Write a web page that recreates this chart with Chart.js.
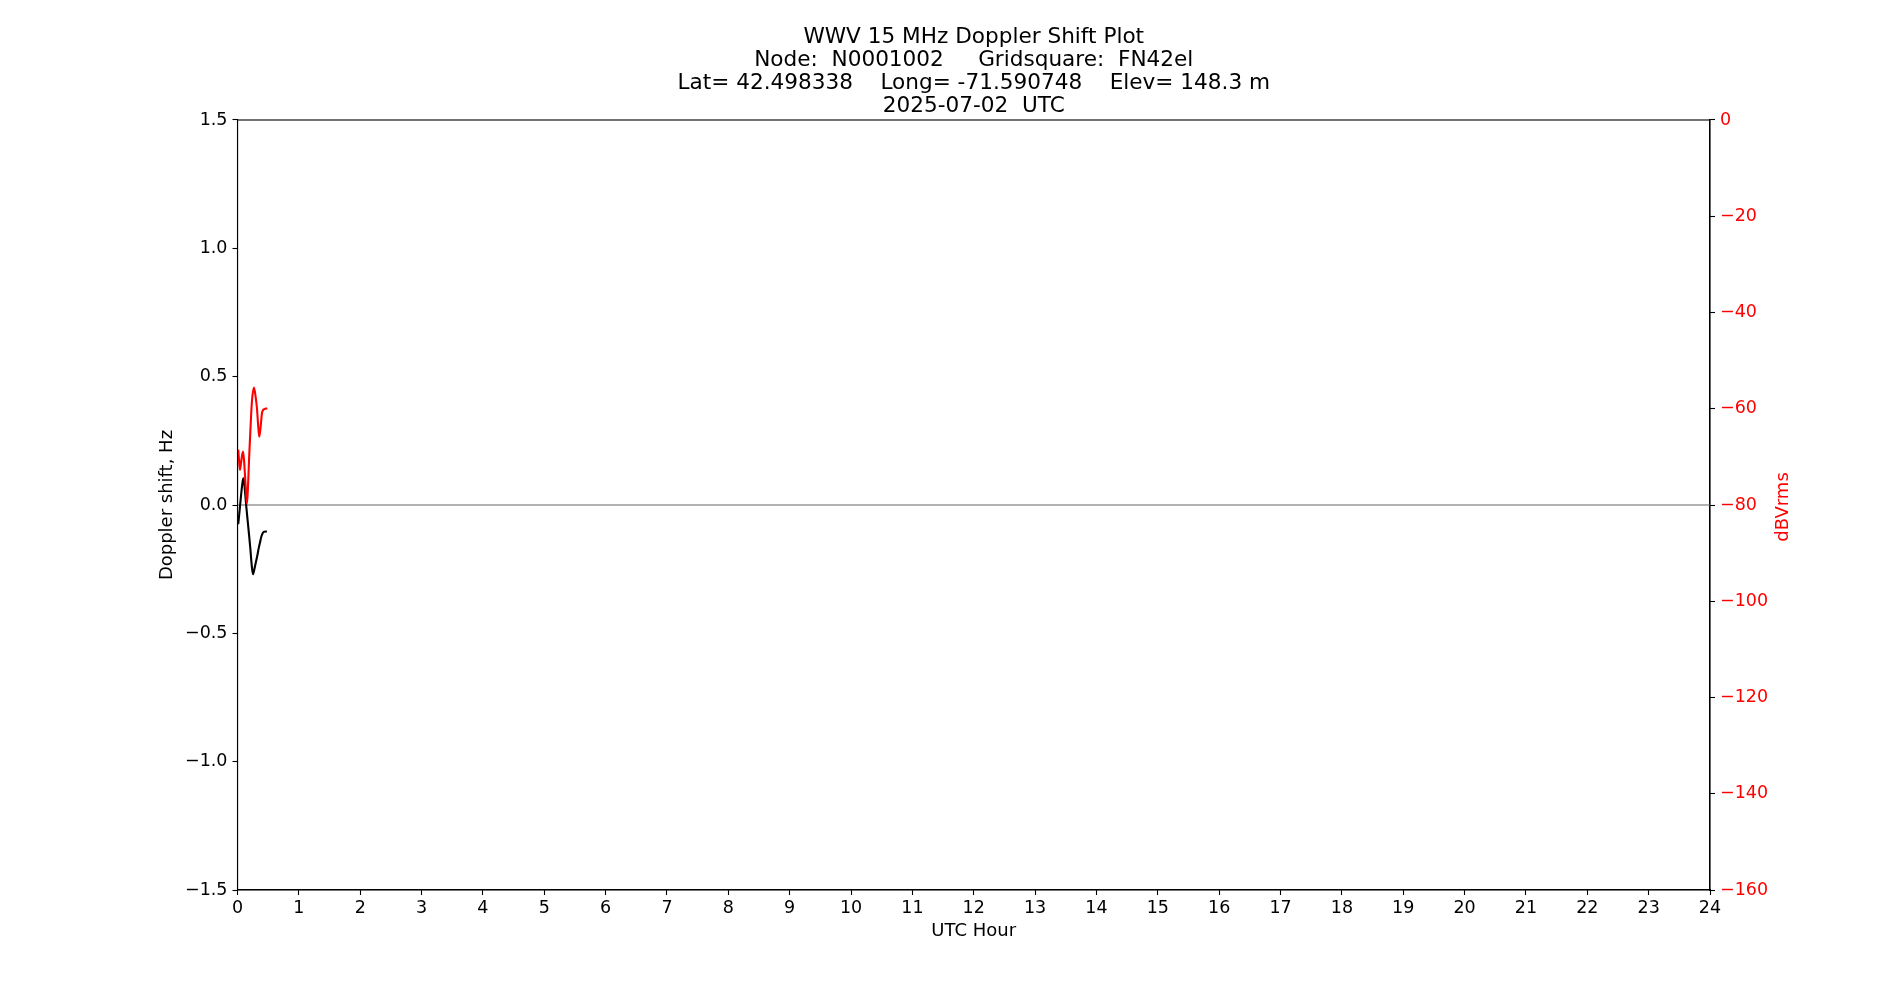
<!DOCTYPE html>
<html>
<head>
<meta charset="utf-8">
<script src="https://cdn.jsdelivr.net/npm/chart.js@4"></script>
<style>
html,body{margin:0;padding:0;background:#fff;}
#wrap{width:1900px;height:1000px;position:relative;}
</style>
</head>
<body>
<div id="wrap"><canvas id="c"></canvas></div>
<script>
// ---- data ----
const titleLines = [
  "WWV 15 MHz Doppler Shift Plot",
  "Node:  N0001002     Gridsquare:  FN42el",
  "Lat= 42.498338    Long= -71.590748    Elev= 148.3 m",
  "2025-07-02  UTC"
];
const hourTicks = [0,1,2,3,4,5,6,7,8,9,10,11,12,13,14,15,16,17,18,19,20,21,22,23,24];
const dopplerTicks = [-1.5,-1.0,-0.5,0.0,0.5,1.0,1.5];
const dbTicks = [-160,-140,-120,-100,-80,-60,-40,-20,0];

const dopplerHours = [0.012,0.035,0.057,0.08,0.095,0.11,0.127,0.145,0.165,0.19,0.209,0.232,0.252,0.275,0.301,0.325,0.345,0.368,0.388,0.41,0.431,0.48];
const dopplerHz    = [-0.075,-0.02,0.035,0.085,0.104,0.085,0.039,-0.01,-0.06,-0.12,-0.169,-0.235,-0.270,-0.25,-0.221,-0.195,-0.169,-0.145,-0.124,-0.11,-0.104,-0.103];

const powerHours = [0.012,0.03,0.041,0.065,0.09,0.108,0.122,0.14,0.155,0.175,0.19,0.209,0.235,0.268,0.295,0.317,0.337,0.355,0.375,0.399,0.42,0.437,0.485];
const powerDb    = [-68.5,-71.5,-72.7,-70.5,-68.9,-71.0,-73.8,-77.5,-79.7,-75.0,-70.0,-64.8,-58.5,-55.6,-57.5,-59.9,-63.5,-65.8,-64.0,-60.9,-60.2,-60.1,-59.9];

const zeroLineHours = [0,24];
const zeroLineHz = [0,0];

// ---- helpers ----
const FONT = "'DejaVu Sans', sans-serif";
const pts = (xs, ys) => xs.map((x, i) => ({x: x, y: ys[i]}));
const minus = s => String(s).replace('-', '\u2212');

const frame = {
  id: 'frame',
  afterDraw(chart) {
    const {ctx, chartArea: a} = chart;
    ctx.save();
    ctx.strokeStyle = '#000';
    ctx.lineWidth = 1.1;
    ctx.strokeRect(a.left, a.top, a.right - a.left, a.bottom - a.top);
    ctx.translate(a.right + 73, (a.top + a.bottom) / 2 + 2);
    ctx.rotate(-Math.PI / 2);
    ctx.fillStyle = '#ff0000';
    ctx.font = "18px " + FONT;
    ctx.textAlign = 'center';
    ctx.textBaseline = 'middle';
    ctx.fillText('dBVrms', 0, 0);
    ctx.restore();
  }
};

new Chart(document.getElementById('c'), {
  type: 'line',
  data: {
    datasets: [
      {data: pts(powerHours, powerDb), yAxisID: 'y2', borderColor: '#ff0000', borderWidth: 2.1,
       pointRadius: 0, cubicInterpolationMode: 'monotone', fill: false, order: 0},
      {data: pts(dopplerHours, dopplerHz), yAxisID: 'y', borderColor: '#000000', borderWidth: 2.1,
       pointRadius: 0, cubicInterpolationMode: 'monotone', fill: false, order: 1},
      {data: pts(zeroLineHours, zeroLineHz), yAxisID: 'y', borderColor: '#999999', borderWidth: 1.3,
       pointRadius: 0, fill: false, order: 2}
    ]
  },
  options: {
    responsive: true,
    maintainAspectRatio: false,
    animation: false,
    layout: {padding: 0},
    plugins: {
      legend: {display: false},
      tooltip: {enabled: false},
      title: {
        display: true,
        fullSize: false,
        text: titleLines,
        color: '#000',
        font: {family: FONT, size: 21.6, weight: 'normal', lineHeight: 23/21.6},
        padding: {top: 26, bottom: 2}
      }
    },
    scales: {
      x: {
        type: 'linear', min: 0, max: 24,
        afterBuildTicks: s => { s.ticks = hourTicks.map(v => ({value: v})); },
        afterFit: s => { s.height = 110; },
        ticks: {color: '#000', font: {family: FONT, size: 17.5}, padding: 3, maxRotation: 0, autoSkip: false,
                callback: v => String(v)},
        grid: {drawOnChartArea: false, drawTicks: true, tickLength: 5, tickColor: '#000', tickWidth: 1.1},
        border: {display: true, color: '#000', width: 1.1},
        title: {display: true, text: 'UTC Hour', color: '#000', font: {family: FONT, size: 18}, padding: {top: 0, bottom: 58}}
      },
      y: {
        type: 'linear', position: 'left', min: -1.5, max: 1.5,
        afterBuildTicks: s => { s.ticks = dopplerTicks.map(v => ({value: v})); },
        afterFit: s => { s.width = 237.5; },
        ticks: {color: '#000', font: {family: FONT, size: 17.5}, padding: 5, autoSkip: false,
                callback: v => minus(Number(v).toFixed(1))},
        grid: {drawOnChartArea: false, drawTicks: true, tickLength: 5, tickColor: '#000', tickWidth: 1.1},
        border: {display: true, color: '#000', width: 1.1},
        title: {display: true, text: 'Doppler shift, Hz', color: '#000', font: {family: FONT, size: 18}, padding: {top: 157, bottom: 0}}
      },
      y2: {
        type: 'linear', position: 'right', min: -160, max: 0,
        afterBuildTicks: s => { s.ticks = dbTicks.map(v => ({value: v})); },
        afterFit: s => { s.width = 190; },
        ticks: {color: '#ff0000', font: {family: FONT, size: 17.5}, padding: 5, autoSkip: false,
                callback: v => minus(v)},
        grid: {drawOnChartArea: false, drawTicks: true, tickLength: 5, tickColor: '#000', tickWidth: 1.1},
        border: {display: true, color: '#000', width: 1.1}
      }
    }
  },
  plugins: [frame]
});
</script>
</body>
</html>
